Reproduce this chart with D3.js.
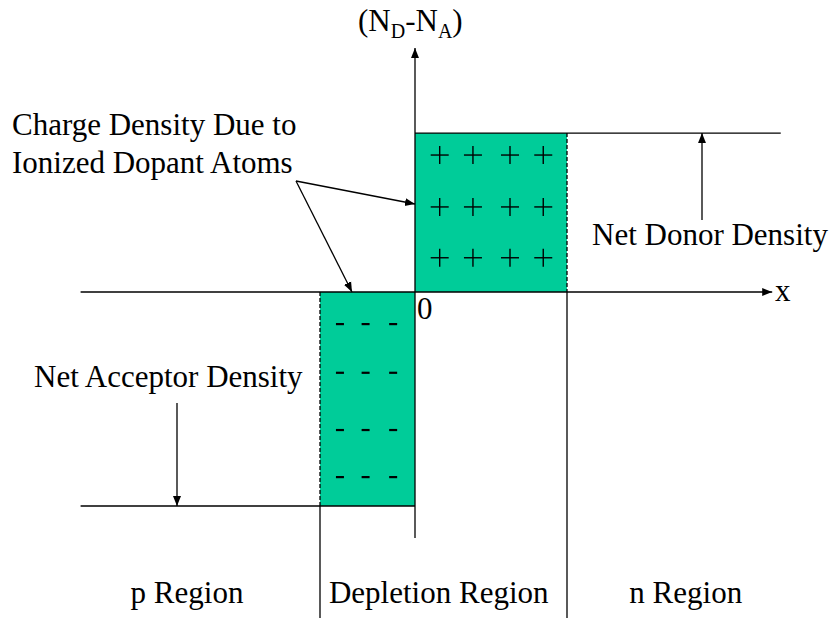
<!DOCTYPE html>
<meta charset="utf-8">
<style>
body { margin: 0; background: #fff; }
text { font-family: "Liberation Serif", "Times New Roman", serif; fill: #000; }
.lbl { font-size: 31px; }
</style>
<svg width="833" height="618"></svg>
<script src="https://cdn.jsdelivr.net/npm/d3@7"></script>
<script>

// junction profile (x in units, density in units)
var xp = -1.0, xn = 1.6;          // depletion edges
var NA = 4.0, ND = 2.97;          // acceptor / donor density
var xAxisRange = [-3.52, 3.76];
var yAxisTop = 4.56;
var lineLeft = -3.52, lineRight = 3.85;  // extent of the level lines
var regionBottom = -6.1;

// ionized charge markers
var plusX = [0.26, 0.61, 1.0, 1.35],
    plusY = [2.56, 1.59, 0.64];
var minusX = [-0.79, -0.52, -0.23],
    minusY = [-0.6, -1.51, -2.58, -3.46];

var regionLabels = ["p Region", "Depletion Region", "n Region"];
var regionMid = [-2.4, 0.25, 2.85];

var svg = d3.select("svg");

var x = d3.scaleLinear().domain([0, 1]).range([415, 510]),
    y = d3.scaleLinear().domain([0, 1]).range([292, 238.5]);

var defs = svg.append("defs");
defs.append("marker")
    .attr("id", "arr")
    .attr("viewBox", "0 0 10 10")
    .attr("refX", 10).attr("refY", 5)
    .attr("markerWidth", 10).attr("markerHeight", 10)
    .attr("markerUnits", "userSpaceOnUse")
    .attr("orient", "auto")
  .append("path")
    .attr("d", "M0,1L10,5L0,9Z")
    .attr("fill", "#000");

var fill = "#00cc99";

// charge blocks
svg.append("rect")
    .attr("x", x(0)).attr("y", y(ND))
    .attr("width", x(xn) - x(0)).attr("height", y(0) - y(ND))
    .attr("fill", fill);
svg.append("rect")
    .attr("x", x(xp)).attr("y", y(0))
    .attr("width", x(0) - x(xp)).attr("height", y(-NA) - y(0))
    .attr("fill", fill);

function line(x1, y1, x2, y2) {
  return svg.append("line")
      .attr("x1", x1).attr("y1", y1).attr("x2", x2).attr("y2", y2)
      .attr("stroke", "#000").attr("stroke-width", 1.3);
}

// dashed edges of the blocks
line(x(xn), y(ND), x(xn), y(0)).attr("stroke-dasharray", "4,2");
line(x(xp), y(0), x(xp), y(-NA)).attr("stroke-dasharray", "4,2");

// level lines
line(x(0), y(ND), x(lineRight), y(ND));
line(x(lineLeft), y(-NA), x(0), y(-NA));

// region separators
line(x(xp), y(-NA), x(xp), y(regionBottom));
line(x(xn), y(0), x(xn), y(regionBottom));

// axes
line(x(xAxisRange[0]), y(0), x(xAxisRange[1]), y(0)).attr("marker-end", "url(#arr)");
line(x(0), y(-4.6), x(0), y(yAxisTop)).attr("marker-end", "url(#arr)");

// plus signs
plusY.forEach(function(py) {
  plusX.forEach(function(px) {
    var cx = x(px), cy = y(py);
    line(cx - 9, cy, cx + 9, cy).attr("stroke-width", 1.4);
    line(cx, cy - 9, cx, cy + 9).attr("stroke-width", 1.4);
  });
});

// minus signs
minusY.forEach(function(my) {
  minusX.forEach(function(mx) {
    var cx = x(mx), cy = y(my);
    line(cx - 4, cy, cx + 4, cy).attr("stroke-width", 2.2);
  });
});

// annotation arrows
line(296, 181, x(0), 204).attr("marker-end", "url(#arr)");
line(296, 181, 352, y(0)).attr("marker-end", "url(#arr)");
line(702, 220, 702, y(ND)).attr("marker-end", "url(#arr)");
line(177, 403, 177, y(-NA)).attr("marker-end", "url(#arr)");

// labels
var yl = svg.append("text").attr("class", "lbl").attr("x", 358).attr("y", 31);
yl.append("tspan").text("(N");
yl.append("tspan").attr("dy", 7).attr("font-size", 20).text("D");
yl.append("tspan").attr("dy", -7).text("-N");
yl.append("tspan").attr("dy", 7).attr("font-size", 20).text("A");
yl.append("tspan").attr("dy", -7).text(")");

svg.append("text").attr("class", "lbl").attr("x", 775).attr("y", 301).text("x");
svg.append("text").attr("class", "lbl").attr("x", 417).attr("y", 319).text("0");

svg.append("text").attr("class", "lbl").attr("x", 12).attr("y", 135).text("Charge Density Due to");
svg.append("text").attr("class", "lbl").attr("x", 12).attr("y", 173).text("Ionized Dopant Atoms");
svg.append("text").attr("class", "lbl").attr("x", 592).attr("y", 245).text("Net Donor Density");
svg.append("text").attr("class", "lbl").attr("x", 34).attr("y", 387).text("Net Acceptor Density");

svg.selectAll(".region")
  .data(regionLabels)
  .enter().append("text")
    .attr("class", "lbl region")
    .attr("x", function(d, i) { return x(regionMid[i]); })
    .attr("y", 603)
    .attr("text-anchor", "middle")
    .text(function(d) { return d; });

</script>
